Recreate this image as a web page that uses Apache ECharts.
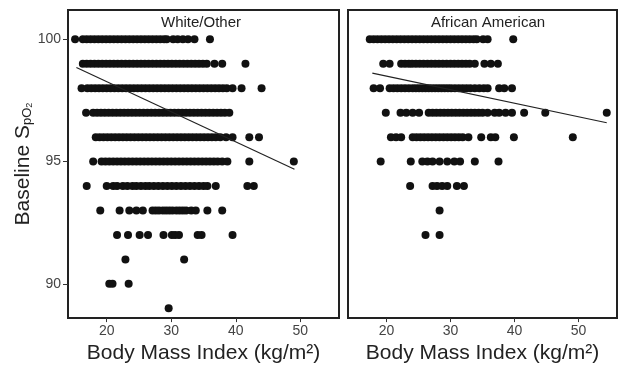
<!DOCTYPE html>
<html>
<head>
<meta charset="utf-8">
<script src="https://cdn.jsdelivr.net/npm/echarts@6/dist/echarts.min.js"></script>
<style>
  html, body { margin: 0; padding: 0; background: #fff; }
  #chart { width: 619px; height: 369px; }
</style>
</head>
<body>
<div id="chart"></div>
<script>
// SpO2 rows (integer readings), top to bottom
const spo2Levels = [100, 99, 98, 97, 96, 95, 94, 93, 92, 91, 90, 89]

// BMI values of each dot, one list per SpO2 row — White/Other
const whiteBmi = [
  [15.1, 16.3, 16.9, 17.5, 18.1, 18.7, 19.3, 19.9, 20.5, 21.1, 21.7, 22.3, 22.9, 23.5, 24.1, 24.7, 25.3, 25.9, 26.5, 27.1, 27.7, 28.3, 28.9, 29.3, 30.3, 31.0, 31.8, 32.6, 33.6, 36.0],
  [16.3, 16.9, 17.5, 18.1, 18.7, 19.3, 19.9, 20.5, 21.1, 21.7, 22.3, 22.9, 23.5, 24.1, 24.7, 25.3, 25.9, 26.5, 27.1, 27.7, 28.3, 28.9, 29.5, 30.1, 30.7, 31.3, 31.9, 32.5, 33.1, 33.7, 34.3, 34.9, 35.5, 36.7, 37.9, 41.5],
  [16.1, 17.0, 17.6, 18.2, 18.8, 19.4, 20.0, 20.6, 21.2, 21.8, 22.4, 23.0, 23.6, 24.2, 24.8, 25.4, 26.0, 26.6, 27.2, 27.8, 28.4, 29.0, 29.6, 30.2, 30.8, 31.4, 32.0, 32.6, 33.2, 33.8, 34.4, 35.0, 35.6, 36.2, 36.8, 37.4, 38.0, 38.6, 39.5, 40.9, 44.0],
  [16.8, 17.9, 18.5, 19.1, 19.7, 20.3, 20.9, 21.5, 22.1, 22.7, 23.3, 23.9, 24.5, 25.1, 25.7, 26.3, 26.9, 27.5, 28.1, 28.7, 29.3, 29.9, 30.5, 31.1, 31.7, 32.3, 32.9, 33.5, 34.1, 34.7, 35.3, 35.9, 36.5, 37.1, 37.7, 38.3, 39.0],
  [18.3, 18.9, 19.5, 20.1, 20.7, 21.3, 21.9, 22.5, 23.1, 23.7, 24.3, 24.9, 25.5, 26.1, 26.7, 27.3, 27.9, 28.5, 29.1, 29.7, 30.3, 30.9, 31.5, 32.1, 32.7, 33.3, 33.9, 34.5, 35.1, 35.7, 36.3, 36.9, 37.6, 38.5, 39.5, 42.1, 43.6],
  [17.9, 19.2, 19.8, 20.4, 21.0, 21.6, 22.2, 22.8, 23.4, 24.0, 24.6, 25.2, 25.8, 26.4, 27.0, 27.6, 28.2, 28.8, 29.4, 30.0, 30.6, 31.2, 31.8, 32.4, 33.0, 33.6, 34.2, 34.8, 35.4, 36.0, 36.6, 37.2, 37.9, 38.7, 42.1, 49.0],
  [16.9, 20.0, 21.0, 21.6, 22.5, 23.2, 24.0, 24.6, 25.3, 26.0, 26.6, 27.3, 28.0, 28.7, 29.4, 30.1, 30.8, 31.5, 32.2, 32.9, 33.6, 34.3, 35.0, 35.6, 36.9, 41.8, 42.8],
  [19.0, 22.0, 23.5, 24.6, 25.6, 27.1, 27.6, 28.1, 28.7, 29.2, 29.7, 30.2, 30.8, 31.3, 31.8, 32.3, 33.1, 33.8, 35.6, 37.9],
  [21.6, 23.3, 25.1, 26.4, 28.8, 30.1, 30.6, 31.2, 34.1, 34.7, 39.5],
  [22.9, 32.0],
  [20.4, 20.9, 23.4],
  [29.6]
]

// BMI values of each dot, one list per SpO2 row — African American
const africanBmi = [
  [17.4, 18.0, 18.6, 19.2, 19.8, 20.4, 21.0, 21.6, 22.2, 22.8, 23.4, 24.0, 24.6, 25.2, 25.8, 26.4, 27.0, 27.6, 28.2, 28.8, 29.4, 30.0, 30.6, 31.2, 31.8, 32.4, 33.0, 33.6, 34.1, 35.1, 35.8, 39.8],
  [19.5, 20.5, 22.3, 22.9, 23.5, 24.0, 24.6, 25.2, 25.8, 26.4, 27.0, 27.6, 28.2, 28.8, 29.4, 30.0, 30.6, 31.2, 31.8, 32.4, 33.0, 33.8, 35.3, 36.3, 37.4],
  [18.0, 19.0, 20.5, 21.1, 21.7, 22.3, 22.9, 23.5, 24.1, 24.6, 25.1, 25.6, 26.1, 26.6, 27.1, 27.6, 28.1, 28.6, 29.1, 29.6, 30.1, 30.7, 31.3, 31.9, 32.5, 33.1, 33.8, 34.5, 35.2, 35.8, 37.6, 38.4, 39.6],
  [19.9, 22.2, 23.1, 24.1, 25.1, 26.6, 27.2, 27.8, 28.4, 29.0, 29.6, 30.2, 30.8, 31.4, 32.0, 32.6, 33.2, 33.8, 34.4, 35.0, 35.8, 36.9, 37.6, 38.6, 39.6, 41.5, 44.8, 54.4],
  [20.7, 21.5, 22.3, 24.1, 24.7, 25.3, 25.9, 26.5, 27.1, 27.7, 28.3, 28.9, 29.5, 30.1, 30.7, 31.3, 31.9, 32.8, 34.8, 36.3, 37.0, 39.9, 49.1],
  [19.1, 23.8, 25.6, 26.4, 27.2, 28.3, 29.5, 30.6, 31.5, 33.8, 37.5],
  [23.7, 27.2, 27.9, 28.7, 29.5, 31.0, 32.1],
  [28.3],
  [26.1, 28.3],
  [], [], []
]

// fitted regression lines, end points [bmi, spo2]
const whiteFit = [[15.3, 98.85], [49.1, 94.69]]
const africanFit = [[17.8, 98.62], [54.4, 96.59]]

const xTicks = [20, 30, 40, 50]
const yTicks = [90, 95, 100]
const panelTitles = ['White/Other', 'African American']

function toPoints(rows) {
  const pts = []
  rows.forEach((row, i) => row.forEach((bmi) => pts.push([bmi, spo2Levels[i]])))
  return pts
}

const font = 'Liberation Sans, Arial, sans-serif'
const chart = echarts.init(document.getElementById('chart'))

function xAxis(gridIndex) {
  return {
    gridIndex,
    type: 'value',
    min: 14,
    max: 56,
    name: 'Body Mass Index (kg/m²)',
    nameLocation: 'middle',
    nameGap: 20,
    nameTextStyle: { fontSize: 21, color: '#222', fontFamily: font },
    axisLine: { show: false },
    splitLine: { show: false },
    axisTick: { show: true, length: 4, lineStyle: { color: '#333' }, customValues: xTicks },
    axisLabel: { color: '#444', fontSize: 14, fontFamily: font, margin: 6, customValues: xTicks },
  }
}

const dotStyle = { color: '#111', opacity: 1 }

chart.setOption({
  animation: false,
  title: [
    { text: panelTitles[0], left: 196, top: 10, textAlign: 'center',
      textStyle: { fontSize: 15, fontWeight: 'normal', color: '#222', fontFamily: font } },
    { text: panelTitles[1], left: 483, top: 10, textAlign: 'center',
      textStyle: { fontSize: 15, fontWeight: 'normal', color: '#222', fontFamily: font } },
  ],
  grid: [
    { left: 68, top: 10, width: 271, height: 310, show: true, borderColor: '#222', borderWidth: 2, backgroundColor: 'transparent' },
    { left: 348, top: 10, width: 269, height: 310, show: true, borderColor: '#222', borderWidth: 2, backgroundColor: 'transparent' },
  ],
  xAxis: [xAxis(0), xAxis(1)],
  yAxis: [
    {
      gridIndex: 0,
      type: 'value',
      min: 88.6,
      max: 101.2,
      name: '{a|Baseline S}{b|pO}{c|2}',
      nameLocation: 'middle',
      nameRotate: 90,
      nameGap: 34,
      nameTextStyle: {
        rich: {
          a: { fontSize: 21, color: '#222', fontFamily: font },
          b: { fontSize: 13, color: '#222', fontFamily: font, verticalAlign: 'bottom', padding: [9, 0, 0, 0] },
          c: { fontSize: 9, color: '#222', fontFamily: font, verticalAlign: 'bottom', padding: [13, 0, 0, 0] },
        },
      },
      axisLine: { show: false },
      splitLine: { show: false },
      axisTick: { show: true, length: 5, lineStyle: { color: '#333' }, customValues: yTicks },
      axisLabel: { color: '#444', fontSize: 14, fontFamily: font, margin: 7, customValues: yTicks },
    },
    {
      gridIndex: 1,
      type: 'value',
      min: 88.6,
      max: 101.2,
      axisLine: { show: false },
      splitLine: { show: false },
      axisTick: { show: false },
      axisLabel: { show: false },
    },
  ],
  series: [
    { type: 'scatter', xAxisIndex: 0, yAxisIndex: 0, symbolSize: 8, itemStyle: dotStyle, data: toPoints(whiteBmi) },
    { type: 'scatter', xAxisIndex: 1, yAxisIndex: 1, symbolSize: 8, itemStyle: dotStyle, data: toPoints(africanBmi) },
    { type: 'line', xAxisIndex: 0, yAxisIndex: 0, symbol: 'none', z: 5, lineStyle: { color: '#222', width: 1.2 }, data: whiteFit },
    { type: 'line', xAxisIndex: 1, yAxisIndex: 1, symbol: 'none', z: 5, lineStyle: { color: '#222', width: 1.2 }, data: africanFit },
  ],
})
</script>
</body>
</html>
